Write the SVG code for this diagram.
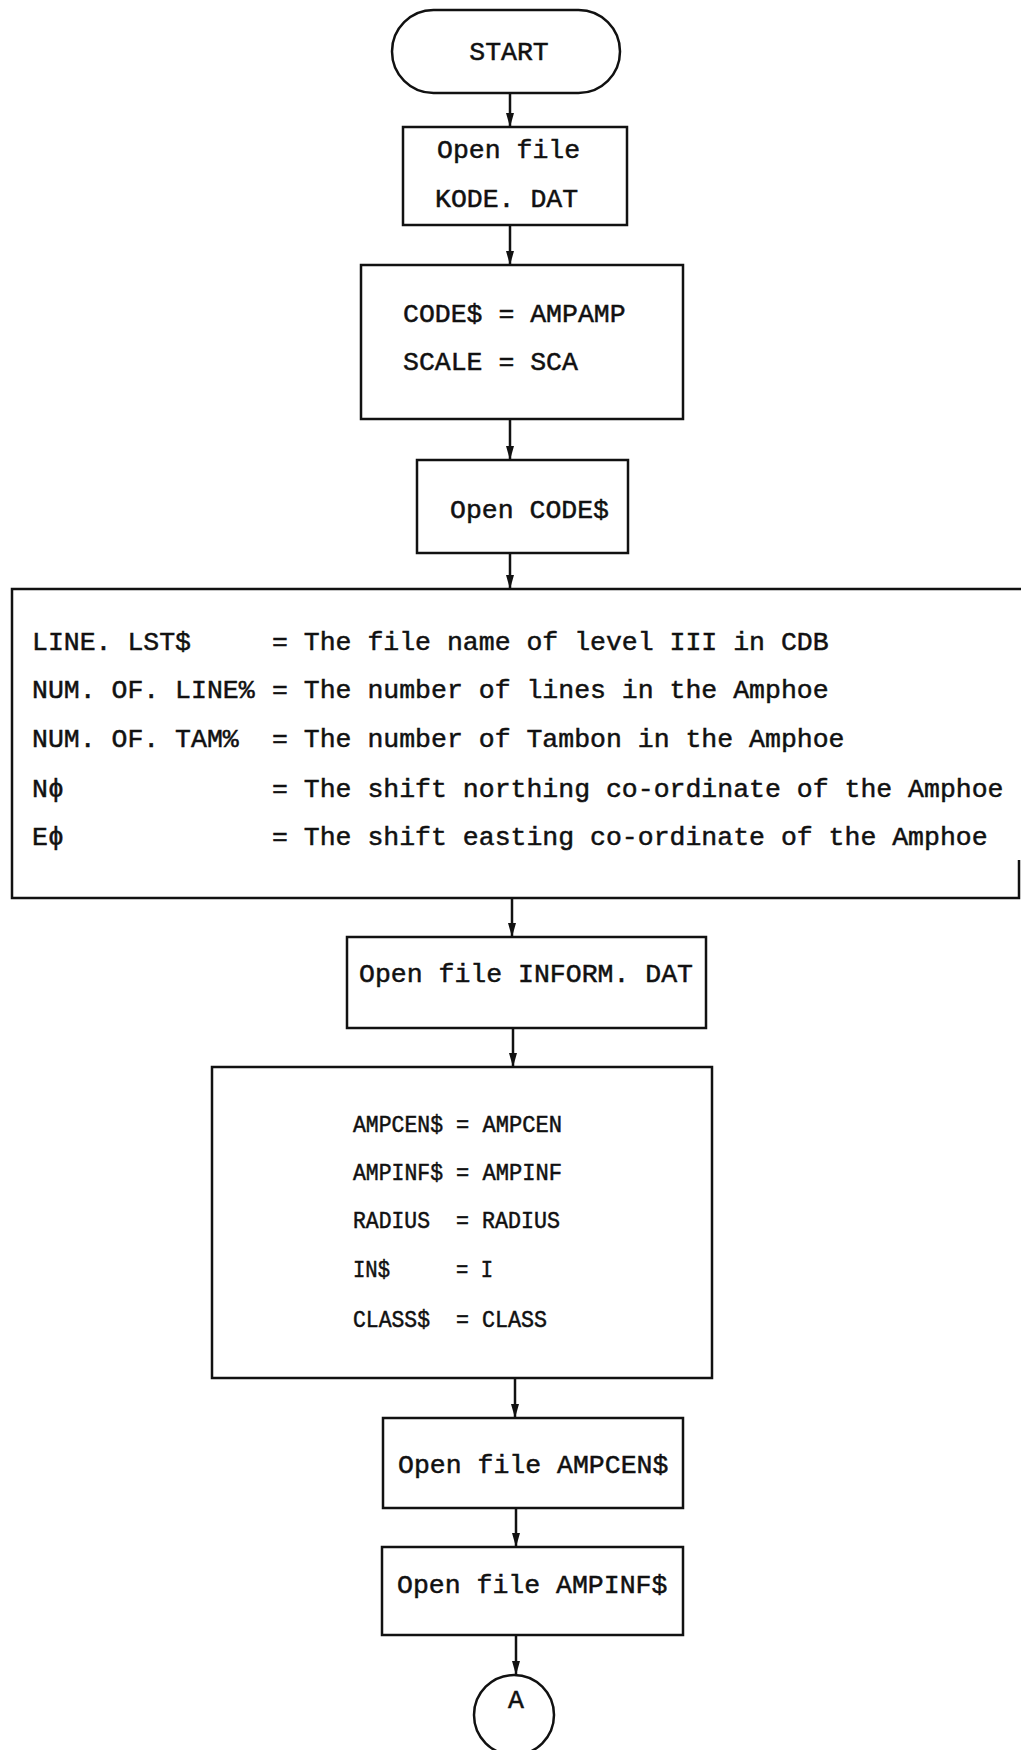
<svg xmlns="http://www.w3.org/2000/svg" width="1021" height="1750" viewBox="0 0 1021 1750">
<style>
.box{fill:none;stroke:#111;stroke-width:2.5}
.con{fill:none;stroke:#111;stroke-width:2.5;marker-end:url(#ah)}
.t{font-family:"Liberation Mono","Courier New",monospace;font-size:26.5px;fill:#111;stroke:#111;stroke-width:0.5}
.s{font-family:"Liberation Mono","Courier New",monospace;font-size:23px;fill:#111;stroke:#111;stroke-width:0.5}
.c{text-anchor:middle}
</style>
<defs>
<marker id="ah" viewBox="0 0 14 8" refX="14" refY="4" markerWidth="14" markerHeight="8" markerUnits="userSpaceOnUse" orient="auto">
<path d="M0,0 L14,4 L0,8 z" fill="#111"/>
</marker>
</defs>
<rect width="1021" height="1750" fill="#fff"/>
<g id="connectors">
<line class="con" x1="510" y1="93" x2="510" y2="127"/>
<line class="con" x1="510" y1="225" x2="510" y2="265"/>
<line class="con" x1="510" y1="419" x2="510" y2="460"/>
<line class="con" x1="510" y1="553" x2="510" y2="589"/>
<line class="con" x1="512" y1="898" x2="512" y2="937"/>
<line class="con" x1="513" y1="1028" x2="513" y2="1067"/>
<line class="con" x1="515" y1="1378" x2="515" y2="1418"/>
<line class="con" x1="516" y1="1508" x2="516" y2="1547"/>
<line class="con" x1="516" y1="1635" x2="516" y2="1675"/>
</g>
<g id="start">
<rect class="box" x="392" y="10" width="228" height="83" rx="41.5"/>
<text class="t c" x="509" y="60">START</text>
</g>
<g id="open-kode">
<rect class="box" x="403" y="127" width="224" height="98"/>
<text class="t" x="437" y="158">Open file</text>
<text class="t" x="435" y="207">KODE. DAT</text>
</g>
<g id="assign-code">
<rect class="box" x="361" y="265" width="322" height="154"/>
<text class="t" x="403" y="322" xml:space="preserve">CODE$ = AMPAMP</text>
<text class="t" x="403" y="370" xml:space="preserve">SCALE = SCA</text>
</g>
<g id="open-code">
<rect class="box" x="417" y="460" width="211" height="93"/>
<text class="t" x="450" y="518">Open CODE$</text>
</g>
<g id="line-vars">
<polyline class="box" points="1021,589 12,589 12,898 1019,898 1019,860"/>
<text class="t" x="32" y="650">LINE. LST$</text>
<text class="t" x="272" y="650">= The file name of level III in CDB</text>
<text class="t" x="32" y="698">NUM. OF. LINE%</text>
<text class="t" x="272" y="698">= The number of lines in the Amphoe</text>
<text class="t" x="32" y="747">NUM. OF. TAM%</text>
<text class="t" x="272" y="747">= The number of Tambon in the Amphoe</text>
<text class="t" x="32" y="797">Nϕ</text>
<text class="t" x="272" y="797">= The shift northing co-ordinate of the Amphoe</text>
<text class="t" x="32" y="845">Eϕ</text>
<text class="t" x="272" y="845">= The shift easting co-ordinate of the Amphoe</text>
</g>
<g id="open-inform">
<rect class="box" x="347" y="937" width="359" height="91"/>
<text class="t" x="359" y="982">Open file INFORM. DAT</text>
</g>
<g id="assign-amp">
<rect class="box" x="212" y="1067" width="500" height="311"/>
<text class="s" x="353" y="1132" textLength="90" lengthAdjust="spacingAndGlyphs">AMPCEN$</text>
<text class="s" x="456" y="1132" textLength="106" lengthAdjust="spacingAndGlyphs">= AMPCEN</text>
<text class="s" x="353" y="1180" textLength="90" lengthAdjust="spacingAndGlyphs">AMPINF$</text>
<text class="s" x="456" y="1180" textLength="106" lengthAdjust="spacingAndGlyphs">= AMPINF</text>
<text class="s" x="353" y="1228" textLength="77" lengthAdjust="spacingAndGlyphs">RADIUS</text>
<text class="s" x="456" y="1228" textLength="104" lengthAdjust="spacingAndGlyphs">= RADIUS</text>
<text class="s" x="353" y="1277" textLength="37" lengthAdjust="spacingAndGlyphs">IN$</text>
<text class="s" x="456" y="1277" textLength="37" lengthAdjust="spacingAndGlyphs">= I</text>
<text class="s" x="353" y="1327" textLength="77" lengthAdjust="spacingAndGlyphs">CLASS$</text>
<text class="s" x="456" y="1327" textLength="91" lengthAdjust="spacingAndGlyphs">= CLASS</text>
</g>
<g id="open-ampcen">
<rect class="box" x="383" y="1418" width="300" height="90"/>
<text class="t" x="398" y="1473">Open file AMPCEN$</text>
</g>
<g id="open-ampinf">
<rect class="box" x="382" y="1547" width="301" height="88"/>
<text class="t" x="397" y="1593">Open file AMPINF$</text>
</g>
<g id="connector-a">
<circle class="box" cx="514" cy="1715" r="40"/>
<text class="t c" x="516" y="1708">A</text>
</g>
</svg>
